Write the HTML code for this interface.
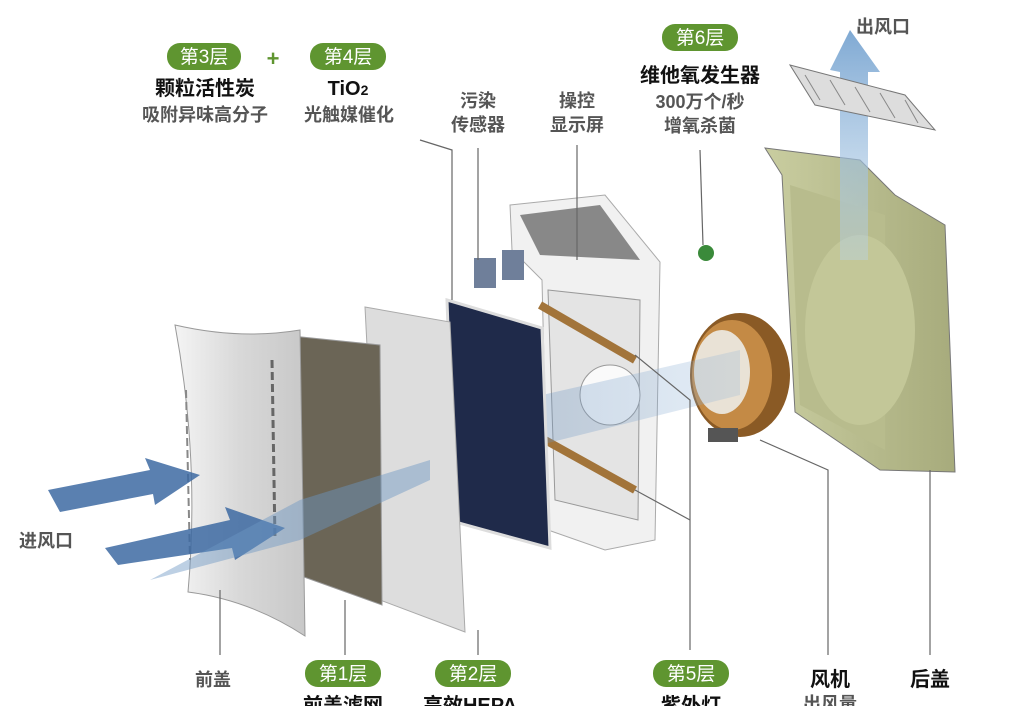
<!DOCTYPE html>
<html><head><meta charset="utf-8"><style>
body{margin:0;background:#fff;}
svg{display:block;font-family:"Liberation Sans","Noto Sans CJK SC",sans-serif;font-weight:bold;}
.pill{fill:#5f9530;}
.pt{fill:#fff;font-size:19px;font-weight:normal;}
.k{fill:#111;font-size:20px;}
.g{fill:#555;font-size:18px;}
.ln{stroke:#666;stroke-width:1.2;fill:none;}
</style></head><body>
<svg width="1032" height="706" viewBox="0 0 1032 706">
<defs>
<linearGradient id="fc" x1="0" x2="1"><stop offset="0" stop-color="#f4f4f4"/><stop offset="0.5" stop-color="#d8d8d8"/><stop offset="1" stop-color="#c8c8c8"/></linearGradient>
<linearGradient id="bc" x1="0" x2="1"><stop offset="0" stop-color="#c9cda0"/><stop offset="1" stop-color="#a7ab7c"/></linearGradient>
<linearGradient id="bl" x1="0" x2="1"><stop offset="0" stop-color="#3f6fa8" stop-opacity="0.8"/><stop offset="1" stop-color="#8fb3d8" stop-opacity="0.5"/></linearGradient>
<linearGradient id="up" x1="0" y1="1" x2="0" y2="0"><stop offset="0" stop-color="#b9d3ea" stop-opacity="0.4"/><stop offset="1" stop-color="#7fa9d3"/></linearGradient>
</defs>
<!-- back cover -->
<polygon points="765,148 860,160 895,195 945,225 955,472 880,470 795,412 782,175" fill="url(#bc)" stroke="#777" stroke-width="1"/>
<polygon points="790,185 885,215 885,450 800,405" fill="#b8bc8d"/>
<ellipse cx="860" cy="330" rx="55" ry="95" fill="#c3c798"/>
<!-- up arrow -->
<polygon points="830,70 850,30 880,72 868,72 868,260 840,260 840,72" fill="url(#up)"/>
<!-- top grille -->
<polygon points="790,65 905,95 935,130 815,105" fill="#ddd" stroke="#777"/>
<g stroke="#888"><line x1="805" y1="75" x2="820" y2="100"/><line x1="830" y1="80" x2="845" y2="105"/><line x1="855" y1="87" x2="870" y2="112"/><line x1="880" y1="93" x2="895" y2="118"/><line x1="905" y1="100" x2="918" y2="123"/></g>
<!-- fan -->
<ellipse cx="740" cy="375" rx="50" ry="62" fill="#8a5a25"/>
<ellipse cx="732" cy="375" rx="40" ry="55" fill="#c48a45"/>
<ellipse cx="722" cy="372" rx="28" ry="42" fill="#e9e2d6"/>
<rect x="708" y="428" width="30" height="14" fill="#555"/>
<!-- main body -->
<polygon points="510,205 605,195 660,262 655,540 605,550 548,530 542,280 512,250" fill="#f1f1f1" stroke="#aaa"/>
<polygon points="548,290 640,300 638,520 555,500" fill="#e4e4e4" stroke="#999"/>
<polygon points="520,215 600,205 640,260 540,255" fill="#888"/>
<line x1="540" y1="305" x2="635" y2="360" stroke="#a2743a" stroke-width="8"/>
<line x1="545" y1="440" x2="635" y2="490" stroke="#a2743a" stroke-width="8"/>
<circle cx="610" cy="395" r="30" fill="#fafafa" stroke="#999"/>
<!-- sensors -->
<rect x="474" y="258" width="22" height="30" fill="#6f7f9a"/><rect x="502" y="250" width="22" height="30" fill="#6f7f9a"/>
<circle cx="706" cy="253" r="8" fill="#3a8a3a"/>
<!-- blue middle stream -->
<polygon points="300,450 740,350 740,395 300,505" fill="url(#bl)" opacity="0.5"/>
<!-- HEPA -->
<polygon points="447,300 542,328 550,548 455,522" fill="#1f2a4a" stroke="#ddd" stroke-width="3"/>
<!-- filter 2 -->
<polygon points="365,307 450,322 465,632 380,600" fill="#ddd" stroke="#aaa"/>
<!-- filter 1 -->
<polygon points="282,335 380,345 382,605 290,572" fill="#6b6556" stroke="#999"/>
<!-- front cover -->
<path d="M175,325 Q240,340 300,330 L305,636 Q250,600 188,592 Q200,460 175,325Z" fill="url(#fc)" stroke="#999"/>
<line x1="272" y1="360" x2="275" y2="540" stroke="#666" stroke-width="3" stroke-dasharray="8 4"/>
<line x1="186" y1="390" x2="190" y2="560" stroke="#888" stroke-width="2" stroke-dasharray="8 4"/>
<!-- inlet arrows -->
<polygon points="48,490 150,470 145,458 200,475 155,505 153,494 60,512" fill="#3d6aa2" opacity="0.85"/>
<polygon points="105,548 230,520 225,507 285,528 235,560 232,548 118,565" fill="#3d6aa2" opacity="0.85"/>
<polygon points="150,580 300,500 430,460 430,480 300,540" fill="#6d96c4" opacity="0.45"/>
<!-- leader lines -->
<g class="ln">
<polyline points="420,140 452,150 452,300"/><line x1="478" y1="148" x2="478" y2="260"/><line x1="577" y1="145" x2="577" y2="260"/>
<line x1="700" y1="150" x2="703" y2="245"/>
<polyline points="635,355 690,400 690,650"/><line x1="635" y1="490" x2="690" y2="520"/>
<polyline points="760,440 828,470 828,655"/><line x1="930" y1="470" x2="930" y2="655"/>
<line x1="220" y1="590" x2="220" y2="655"/><line x1="345" y1="600" x2="345" y2="655"/><line x1="478" y1="630" x2="478" y2="655"/>
</g>
<!-- top labels -->
<rect class="pill" x="167" y="43" width="74" height="27" rx="13"/><text class="pt" x="204" y="63" text-anchor="middle">第3层</text>
<text x="273" y="66" fill="#5f9530" font-size="22" text-anchor="middle">+</text>
<rect class="pill" x="310" y="43" width="76" height="27" rx="13"/><text class="pt" x="348" y="63" text-anchor="middle">第4层</text>
<text class="k" x="205" y="95" text-anchor="middle">颗粒活性炭</text>
<text class="k" x="348" y="95" text-anchor="middle">TiO<tspan font-size="14">2</tspan></text>
<text class="g" x="205" y="121" text-anchor="middle">吸附异味高分子</text>
<text class="g" x="349" y="121" text-anchor="middle">光触媒催化</text>
<text class="g" x="478" y="107" text-anchor="middle">污染</text><text class="g" x="478" y="131" text-anchor="middle">传感器</text>
<text class="g" x="577" y="107" text-anchor="middle">操控</text><text class="g" x="577" y="131" text-anchor="middle">显示屏</text>
<rect class="pill" x="662" y="24" width="76" height="27" rx="13"/><text class="pt" x="700" y="44" text-anchor="middle">第6层</text>
<text class="k" x="700" y="82" text-anchor="middle" font-size="19">维他氧发生器</text>
<text class="g" x="700" y="108" text-anchor="middle">300万个/秒</text>
<text class="g" x="700" y="132" text-anchor="middle">增氧杀菌</text>
<text class="g" x="883" y="33" text-anchor="middle">出风口</text>
<text class="g" x="46" y="547" text-anchor="middle">进风口</text>
<!-- bottom labels -->
<text class="g" x="213" y="686" text-anchor="middle">前盖</text>
<rect class="pill" x="305" y="660" width="76" height="27" rx="13"/><text class="pt" x="343" y="680" text-anchor="middle">第1层</text>
<text class="k" x="343" y="712" text-anchor="middle">前盖滤网</text>
<rect class="pill" x="435" y="660" width="76" height="27" rx="13"/><text class="pt" x="473" y="680" text-anchor="middle">第2层</text>
<text class="k" x="470" y="712" text-anchor="middle">高效HEPA</text>
<rect class="pill" x="653" y="660" width="76" height="27" rx="13"/><text class="pt" x="691" y="680" text-anchor="middle">第5层</text>
<text class="k" x="691" y="712" text-anchor="middle">紫外灯</text>
<text class="k" x="830" y="686" text-anchor="middle">风机</text>
<text class="g" x="830" y="710" text-anchor="middle">出风量</text>
<text class="k" x="930" y="686" text-anchor="middle">后盖</text>
</svg>
</body></html>
